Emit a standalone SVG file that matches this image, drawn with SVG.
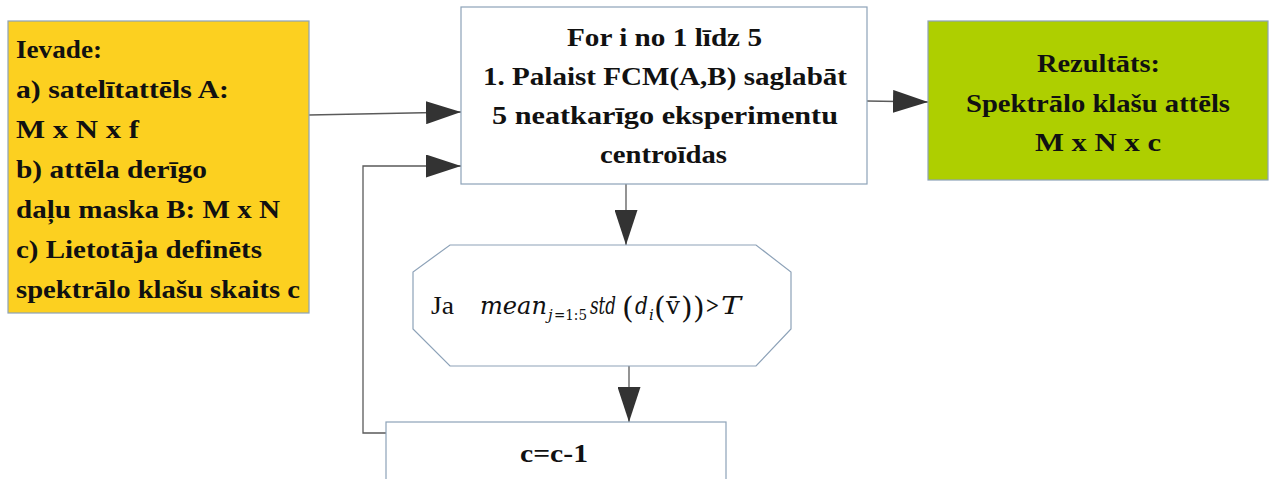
<svg xmlns="http://www.w3.org/2000/svg" width="1270" height="479" viewBox="0 0 1270 479">
<defs>
<style>
.box{stroke:#8da2b8;stroke-width:1.2}
.t{font-family:"Liberation Serif","Times New Roman",serif;font-weight:bold;font-size:26px;fill:#111}
.conn{fill:none;stroke:#5a5a5a;stroke-width:1.3}
.m{font-family:"DejaVu Serif",serif;font-style:italic;fill:#111}
.r{font-family:"Liberation Serif",serif;fill:#111}
.p{font-family:"DejaVu Serif",serif;font-weight:normal;fill:#111}
</style>
<marker id="ah" markerUnits="userSpaceOnUse" markerWidth="35" markerHeight="23" refX="35" refY="11.5" orient="auto" viewBox="0 0 35 23">
<path d="M0,0 L35,11.5 L0,23 z" fill="#333"/>
</marker>
</defs>
<rect width="1270" height="479" fill="#ffffff"/>

<g id="connectors">
<path class="conn" d="M309,115 L461,112" marker-end="url(#ah)"/>
<path class="conn" d="M386,433 L363,433 L363,166 L461,166" marker-end="url(#ah)"/>
<path class="conn" d="M867,101 L928,102" marker-end="url(#ah)"/>
<path class="conn" d="M626,184 L626,245" marker-end="url(#ah)"/>
<path class="conn" d="M629,366 L629,422" marker-end="url(#ah)"/>
</g>

<g id="input">
<rect class="box" x="8" y="21" width="301" height="292" fill="#fcd020"/>
<text class="t" x="16" y="58" textLength="86" lengthAdjust="spacingAndGlyphs">Ievade:</text>
<text class="t" x="16" y="98" textLength="213" lengthAdjust="spacingAndGlyphs">a) satelītattēls A:</text>
<text class="t" x="16" y="138" textLength="123" lengthAdjust="spacingAndGlyphs">M x N x f</text>
<text class="t" x="16" y="178" textLength="191" lengthAdjust="spacingAndGlyphs">b) attēla derīgo</text>
<text class="t" x="16" y="218" textLength="264" lengthAdjust="spacingAndGlyphs">daļu maska B: M x N</text>
<text class="t" x="16" y="258" textLength="246" lengthAdjust="spacingAndGlyphs">c) Lietotāja definēts</text>
<text class="t" x="16" y="298" textLength="284" lengthAdjust="spacingAndGlyphs">spektrālo klašu skaits c</text>
</g>

<g id="loop">
<rect class="box" x="461" y="7" width="406" height="177" fill="#ffffff"/>
<text class="t" x="567" y="46" textLength="195" lengthAdjust="spacingAndGlyphs">For i no 1 līdz 5</text>
<text class="t" x="483" y="85" textLength="364" lengthAdjust="spacingAndGlyphs">1. Palaist FCM(A,B) saglabāt</text>
<text class="t" x="492" y="124" textLength="346" lengthAdjust="spacingAndGlyphs">5 neatkarīgo eksperimentu</text>
<text class="t" x="600" y="163" textLength="127" lengthAdjust="spacingAndGlyphs">centroīdas</text>
</g>

<g id="result">
<rect class="box" x="928" y="21" width="340" height="159" fill="#aecf00"/>
<text class="t" x="1037" y="72" textLength="123" lengthAdjust="spacingAndGlyphs">Rezultāts:</text>
<text class="t" x="966" y="112" textLength="264" lengthAdjust="spacingAndGlyphs">Spektrālo klašu attēls</text>
<text class="t" x="1035" y="151" textLength="126" lengthAdjust="spacingAndGlyphs">M x N x c</text>
</g>

<g id="condition">
<polygon class="box" points="450,245 756,245 791,272 791,329 756,366 450,366 413,329 413,272" fill="#ffffff"/>
<text class="r" x="431" y="314" font-size="25" textLength="23" lengthAdjust="spacingAndGlyphs">Ja</text>
<text class="m" x="480" y="314" font-size="24" textLength="67" lengthAdjust="spacingAndGlyphs">mean</text>
<text class="m" x="548" y="320" font-size="15">j</text>
<text class="p" x="554" y="320" font-size="15" textLength="33" lengthAdjust="spacingAndGlyphs">=1:5</text>
<text class="m" x="590" y="314" font-size="24" textLength="26" lengthAdjust="spacingAndGlyphs">std</text>
<text class="p" x="622" y="318" font-size="30">(</text>
<text class="m" x="635" y="314" font-size="24" textLength="13" lengthAdjust="spacingAndGlyphs">d</text>
<text class="m" x="649" y="320" font-size="15">i</text>
<text class="p" x="654" y="318" font-size="30">(</text>
<text class="p" x="666" y="314" font-size="24" textLength="14" lengthAdjust="spacingAndGlyphs">v̄</text>
<text class="p" x="681" y="318" font-size="30">)</text>
<text class="p" x="693" y="318" font-size="30">)</text>
<text class="r" x="706" y="314" font-size="25" font-weight="bold" textLength="13" lengthAdjust="spacingAndGlyphs">&gt;</text>
<text class="m" x="721" y="314" font-size="24" textLength="20" lengthAdjust="spacingAndGlyphs">T</text>
</g>

<g id="decrement">
<rect class="box" x="386" y="422" width="340" height="80" fill="#ffffff"/>
<text class="t" x="520" y="462" textLength="68" lengthAdjust="spacingAndGlyphs">c=c-1</text>
</g>
</svg>
